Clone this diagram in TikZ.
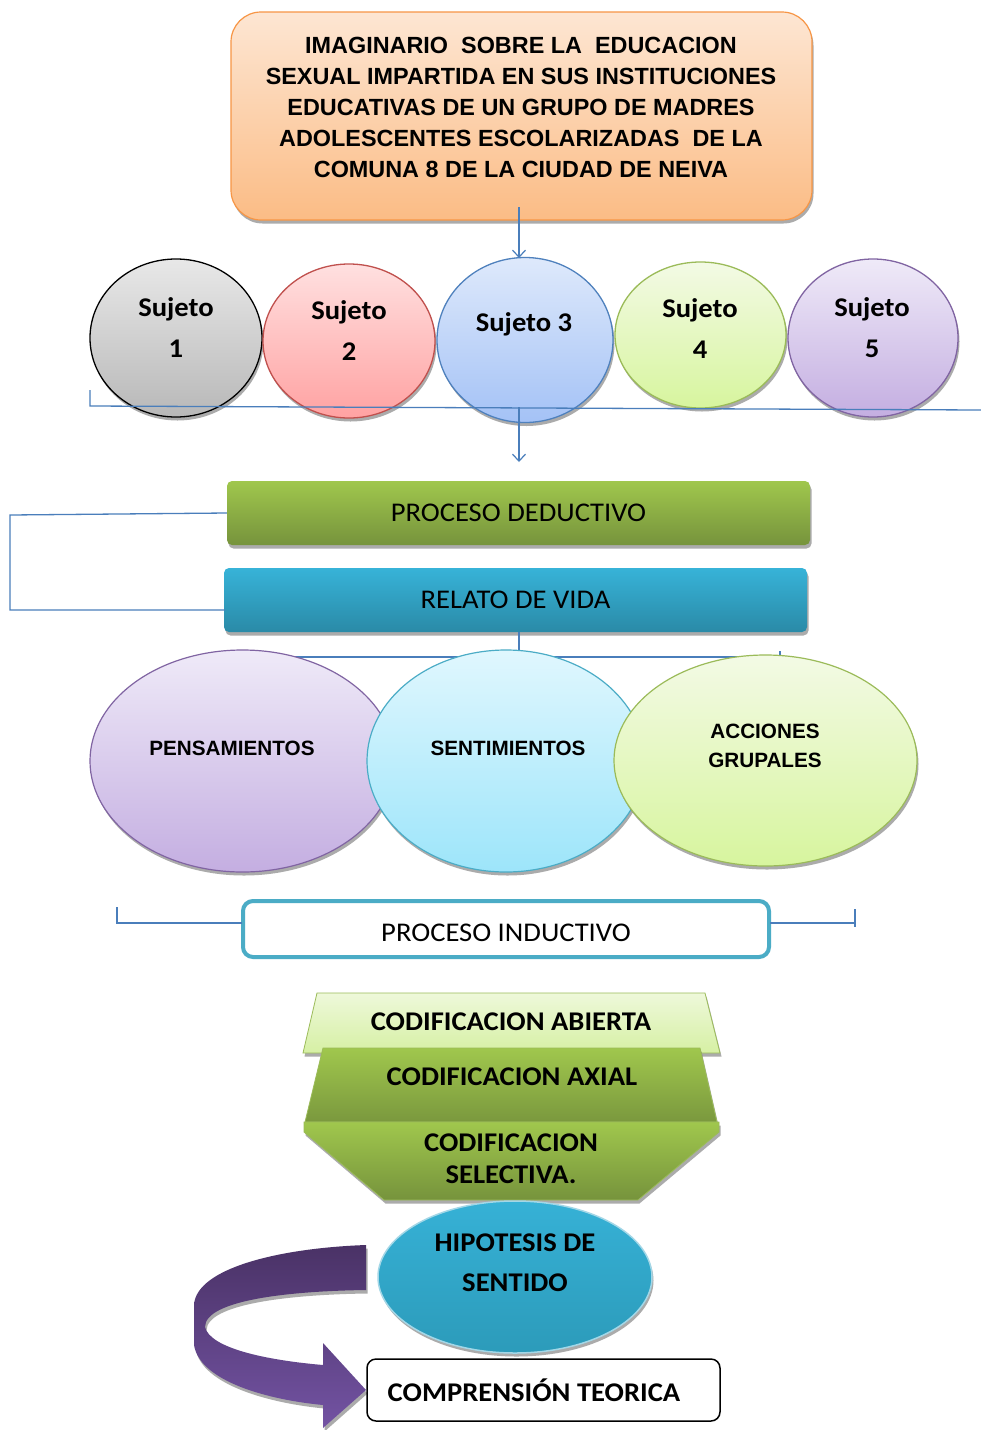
\documentclass[tikz,border=0pt]{standalone}
\usepackage{fontspec}
\setmainfont{Carlito}[FakeStretch=1.06]
\newfontfamily\arialfont{Liberation Sans}
\usetikzlibrary{shapes.geometric,shadows,arrows.meta}
\definecolor{lineblue}{HTML}{4A7EBB}
\definecolor{orB}{HTML}{F79646}
\definecolor{orT}{HTML}{FDE6D3}
\definecolor{orBot}{HTML}{FBBC85}
\definecolor{grT}{HTML}{E8E8E8}
\definecolor{grBot}{HTML}{B8B8B8}
\definecolor{rdB}{HTML}{C0504D}
\definecolor{rdT}{HTML}{FFE0E0}
\definecolor{rdBot}{HTML}{FFA2A2}
\definecolor{blB}{HTML}{4F81BD}
\definecolor{blT}{HTML}{DEE9FB}
\definecolor{blBot}{HTML}{A4C2F6}
\definecolor{gnB}{HTML}{9BBB59}
\definecolor{gnT}{HTML}{F3FAE5}
\definecolor{gnBot}{HTML}{D7F59E}
\definecolor{puB}{HTML}{8064A2}
\definecolor{puT}{HTML}{EFEAF8}
\definecolor{puBot}{HTML}{C4AEE1}
\definecolor{cyB}{HTML}{4BACC6}
\definecolor{cyT}{HTML}{E0F7FE}
\definecolor{cyBot}{HTML}{9DE5FA}
\definecolor{dgT}{HTML}{A0C74D}
\definecolor{dgBot}{HTML}{76933C}
\definecolor{tlT}{HTML}{37B3D8}
\definecolor{tlBot}{HTML}{2A8AA7}
\definecolor{abT}{HTML}{EEF8DA}
\definecolor{abBot}{HTML}{D6F0A4}
\definecolor{hipT}{HTML}{36B1D6}
\definecolor{hipBot}{HTML}{2C9BBA}
\definecolor{hipB}{HTML}{A3D7E7}
\definecolor{ppT}{HTML}{4A3266}
\definecolor{ppBot}{HTML}{7353A3}
\tikzset{
  shadowed/.style={drop shadow={shadow xshift=1.5pt,shadow yshift=-3.5pt,fill=black!60,opacity=0.55}},
  blueline/.style={draw=lineblue,line width=1.3pt},
  barb/.style={-{Straight Barb[length=7pt,width=13pt,line width=1.2pt]}},
  sujeto/.style={ellipse,line width=1.3pt,shadowed,inner sep=0pt},
  sujtext/.style={font=\fontsize{27}{41}\selectfont\bfseries,align=center,inner sep=0pt},
  bigell/.style={ellipse,line width=1.2pt,shadowed,inner sep=0pt},
  arialtext/.style={font=\arialfont\bfseries\fontsize{20.7}{29}\selectfont,align=center,inner sep=0pt},
  bar/.style={rectangle,rounded corners=5pt,minimum width=583pt,minimum height=64pt,shadowed,font=\fontsize{27}{32}\selectfont,inner sep=0pt},
  codtext/.style={font=\fontsize{27}{32}\selectfont\bfseries,align=center,inner sep=0pt},
}
\begin{document}
\begin{tikzpicture}[x=1pt,y=-1pt]
\useasboundingbox[fill=white] (0,0) rectangle (981,1430);

% title
\node[rectangle,rounded corners=30pt,minimum width=581pt,minimum height=208pt,draw=orB,line width=1.2pt,top color=orT,bottom color=orBot,shadowed] (title) at (521.5,116) {};
\node[font=\arialfont\bfseries\fontsize{23.4}{31}\selectfont,align=center,inner sep=0pt] (titlet) at (521,107)
 {IMAGINARIO\ \ SOBRE LA\ \ EDUCACION\\SEXUAL IMPARTIDA EN SUS INSTITUCIONES\\EDUCATIVAS DE UN GRUPO DE MADRES\\ADOLESCENTES ESCOLARIZADAS\ \ DE LA\\COMUNA 8 DE LA CIUDAD DE NEIVA};

% sujetos
\node[sujeto,minimum width=172pt,minimum height=158pt,draw=black,top color=grT,bottom color=grBot] (s1) at (176,338) {};
\node[sujeto,minimum width=172pt,minimum height=154pt,draw=rdB,top color=rdT,bottom color=rdBot] (s2) at (349,341) {};
\node[sujeto,minimum width=176pt,minimum height=165pt,draw=blB,top color=blT,bottom color=blBot] (s3) at (525,340) {};
\node[sujeto,minimum width=171pt,minimum height=146pt,draw=gnB,top color=gnT,bottom color=gnBot] (s4) at (700.5,335) {};
\node[sujeto,minimum width=170pt,minimum height=158pt,draw=puB,top color=puT,bottom color=puBot] (s5) at (873,338) {};
\node[sujtext] (s1t) at (176,328) {Sujeto\\1};
\node[sujtext] (s2t) at (349,331) {Sujeto\\2};
\node[sujtext] (s3t) at (524,324) {Sujeto 3};
\node[sujtext] (s4t) at (700,329) {Sujeto\\4};
\node[sujtext] (s5t) at (872,328) {Sujeto\\5};

\coordinate (ta) at (519,207);
\coordinate (tb) at (519,258);
\draw[blueline,barb] (ta) -- (tb);

\coordinate (l1t) at (90,390);
\coordinate (l1a) at (90,406);
\coordinate (l1b) at (981,410);
\draw[blueline] (l1t) -- (l1a) -- (l1b);
\coordinate (da) at (519,407);
\coordinate (db) at (519,462);
\draw[blueline,barb] (da) -- (db);

% bars
\node[bar,top color=dgT,bottom color=dgBot] (ded) at (518.5,513) {PROCESO DEDUCTIVO};
\node[bar,top color=tlT,bottom color=tlBot] (rel) at (515.5,600) {RELATO DE VIDA};
\coordinate (bk1) at (10,515);
\coordinate (bk2) at (10,610);
\coordinate (bk3) at (225,610);
\draw[blueline] (ded.west) -- (bk1) -- (bk2) -- (bk3);

\coordinate (ra) at (519,632);
\coordinate (rb) at (519,657);
\coordinate (rl) at (232,657);
\coordinate (rr) at (780,657);
\coordinate (rt) at (780,651);
\draw[blueline] (ra) -- (rb);
\draw[blueline] (rl) -- (rr) -- (rt);

% big ellipses
\node[bigell,minimum width=305pt,minimum height=222pt,draw=puB,top color=puT,bottom color=puBot] (pen) at (242.5,761) {};
\node[bigell,minimum width=278pt,minimum height=222pt,draw=cyB,top color=cyT,bottom color=cyBot] (sen) at (506,761) {};
\node[bigell,minimum width=303pt,minimum height=211pt,draw=gnB,top color=gnT,bottom color=gnBot] (acc) at (765.5,760.5) {};
\node[arialtext] (pent) at (232,748) {PENSAMIENTOS};
\node[arialtext] (sent) at (508,748) {SENTIMIENTOS};
\node[arialtext] (acct) at (765,746) {ACCIONES\\GRUPALES};

% proceso inductivo
\node[rectangle,rounded corners=10pt,minimum width=526pt,minimum height=56pt,draw=cyB,line width=4pt,fill=white,inner sep=0pt] (ind) at (506,929) {};
\node[font=\fontsize{27}{32}\selectfont,inner sep=0pt] (indt) at (506,933) {PROCESO INDUCTIVO};
\coordinate (ia) at (117,907);
\coordinate (ib) at (117,923);
\coordinate (ic) at (242,923);
\coordinate (id) at (770,923);
\coordinate (ie) at (855,923);
\coordinate (if) at (855,909);
\coordinate (ig) at (855,927);
\draw[blueline] (ia) -- (ib) -- (ic);
\draw[blueline] (id) -- (ie);
\draw[blueline] (if) -- (ig);

% funnel
\path[draw=gnB,line width=0.8pt,top color=abT,bottom color=abBot,shadowed] (317,993) -- (705,993) -- (720,1053) -- (303,1053) -- cycle;
\node[codtext] (abt) at (511,1022) {CODIFICACION ABIERTA};
\path[draw=gnB,line width=0.8pt,top color=dgT,bottom color=dgBot!90!dgT,shadowed] (323,1048) -- (700,1048) -- (717,1122) -- (305,1122) -- cycle;
\node[codtext] (axt) at (512,1077) {CODIFICACION AXIAL};
\path[draw=gnB,line width=0.8pt,top color=dgT,bottom color=dgBot,shadowed] (304,1122) -- (719,1122) -- (719,1132) -- (638,1200) -- (384,1200) -- (304,1132) -- cycle;
\node[codtext] (selt) at (511,1159) {CODIFICACION\\SELECTIVA.};

% purple curved arrow
\path[top color=ppT,bottom color=ppBot,shadowed]
  (366,1245) .. controls (280,1248) and (196,1268) .. (194,1305)
  -- (194,1345) .. controls (200,1382) and (270,1400) .. (323,1405)
  -- (323,1428) -- (366,1390) -- (323,1343) -- (323,1365)
  .. controls (265,1360) and (210,1348) .. (205,1327)
  .. controls (205,1300) and (290,1291) .. (366,1290) -- cycle;

% hipotesis
\node[ellipse,minimum width=274pt,minimum height=152pt,draw=hipB,line width=1.5pt,top color=hipT,bottom color=hipBot,shadowed,inner sep=0pt] (hip) at (515,1277) {};
\node[codtext,font=\fontsize{27}{40}\selectfont\bfseries] (hipt) at (515,1263) {HIPOTESIS DE\\SENTIDO};

% comprension
\node[rectangle,rounded corners=9pt,draw=black,line width=1.5pt,fill=white,minimum width=353pt,minimum height=62pt] (comp) at (543.5,1390) {};
\node[codtext] (compt) at (534,1390) {COMPRENSIÓN TEORICA};
\end{tikzpicture}
\end{document}
